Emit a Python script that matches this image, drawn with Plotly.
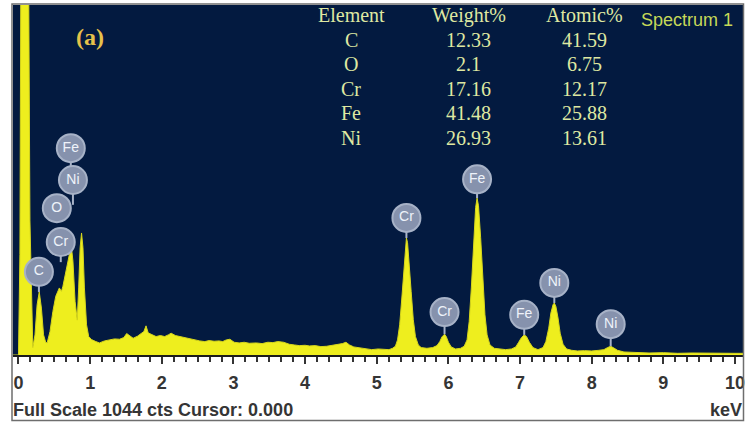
import plotly.graph_objects as go

# EDS spectrum outline: energy (keV) and counts
energy_kev = [
    -0.08, 0.00, 0.02, 0.03, 0.04, 0.10, 0.14, 0.16, 0.20, 0.23, 0.26, 0.29,
    0.32, 0.35, 0.38, 0.40, 0.44, 0.48, 0.52, 0.57, 0.60, 0.62, 0.65, 0.68,
    0.71, 0.74, 0.76, 0.79, 0.82, 0.84, 0.86, 0.88, 0.90, 0.92, 0.95, 0.98,
    1.02, 1.08, 1.13, 1.20, 1.27, 1.34, 1.41, 1.47, 1.51, 1.56, 1.60, 1.66,
    1.71, 1.75, 1.78, 1.81, 1.85, 1.92, 1.98, 2.04, 2.09, 2.13, 2.19, 2.25,
    2.32, 2.39, 2.46, 2.53, 2.60, 2.66, 2.73, 2.80, 2.85, 2.90, 2.95, 3.01,
    3.08, 3.15, 3.22, 3.32, 3.40, 3.48, 3.55, 3.62, 3.70, 3.78, 3.85, 3.92,
    4.00, 4.06, 4.14, 4.22, 4.30, 4.38, 4.45, 4.52, 4.57, 4.62, 4.68, 4.75,
    4.83, 4.93, 5.02, 5.10, 5.17, 5.22, 5.26,
    5.29, 5.32, 5.35, 5.38, 5.40, 5.414, 5.43, 5.45, 5.48, 5.51, 5.54, 5.58,
    5.62, 5.70, 5.78, 5.84, 5.88, 5.91, 5.93, 5.946, 5.97, 6.00, 6.04, 6.10,
    6.17, 6.22, 6.26, 6.29, 6.32, 6.35, 6.38, 6.40, 6.42, 6.45, 6.48, 6.51,
    6.54, 6.58, 6.64, 6.72, 6.80, 6.88, 6.94, 6.98, 7.02, 7.058, 7.09, 7.13,
    7.18, 7.25, 7.32, 7.36, 7.40, 7.43, 7.46, 7.478, 7.50, 7.53, 7.56, 7.60,
    7.65, 7.72, 7.80, 7.90, 8.00, 8.10, 8.17, 8.22, 8.265, 8.30, 8.36, 8.45,
    8.60, 8.80, 9.00, 9.20, 9.40, 9.60, 9.80, 10.00, 10.12,
]
counts = [
    0, 0, 300, 1200, 1600, 1600, 1200, 400, 22, 60, 150, 188,
    140, 60, 38, 36, 70, 130, 175, 200, 190, 205, 240, 270,
    300, 319, 280, 160, 104, 200, 320, 364, 320, 200, 90, 55,
    46, 40, 36, 42, 45, 48, 47, 52, 64, 55, 50, 56,
    65, 70, 87, 66, 62, 55, 58, 55, 60, 65, 58, 55,
    52, 50, 46, 42, 40, 43, 41, 42, 40, 45, 47, 38,
    36, 38, 35, 36, 34, 38, 37, 40, 38, 32, 30, 28,
    29, 27, 28, 25, 26, 29, 30, 34, 38, 30, 24, 22,
    20, 16, 18, 17, 16, 20, 26,
    45, 90, 170, 270, 330, 349, 335, 285, 190, 105, 55, 30,
    22, 20, 22, 28, 40, 54, 60, 62, 55, 38, 24, 18,
    20, 26, 45, 100, 200, 330, 440, 468, 445, 350, 220, 120,
    60, 30, 20, 17, 16, 18, 24, 38, 52, 60, 55, 38,
    22, 16, 22, 40, 80, 125, 150, 155, 145, 110, 65, 32,
    18, 14, 12, 13, 12, 14, 16, 22, 26, 22, 14, 9,
    7, 6, 7, 5, 6, 5, 6, 5, 5,
]

# Quantification table
elements = ["C", "O", "Cr", "Fe", "Ni"]
weight_pct = ["12.33", "2.1", "17.16", "41.48", "26.93"]
atomic_pct = ["41.59", "6.75", "12.17", "25.88", "13.61"]

# Line markers on the peaks: element, energy (keV), stem foot, bubble centre (counts)
line_label = ["C", "O", "Cr", "Ni", "Fe", "Cr", "Cr", "Fe", "Fe", "Ni", "Ni"]
line_kev = [0.285, 0.535, 0.59, 0.76, 0.73, 5.414, 5.946, 6.40, 7.058, 7.478, 8.265]
stem_foot = [188, 395, 277, 448, 540, 349, 62, 468, 60, 155, 26]
bubble_at = [248, 438, 337, 522, 617, 409, 128, 524, 120, 215, 92]

FULL_SCALE = 1044

# Pixel frame of the plotting area inside the 748x425 page
W, H = 748, 425
PL, PR, PT, PB = 13, 745, 5, 355
KEV0_PX, PX_PER_KEV = 18.5, 71.85


def px_x(px):
    return (px - PL) / (PR - PL)


def px_y(py):
    return (PB - py) / (PB - PT)


x_lo = (PL - KEV0_PX) / PX_PER_KEV
x_hi = (PR - KEV0_PX) / PX_PER_KEV

SANS = "Liberation Sans, Arial"
SERIF = "Liberation Serif, Times New Roman"

fig = go.Figure()

fig.add_trace(go.Scatter(
    x=energy_kev, y=counts, mode="lines",
    fill="tozeroy", fillcolor="#eeee1e",
    line=dict(color="#d6d61c", width=1),
    hoverinfo="skip", showlegend=False,
))

# stems joining each bubble to its peak
sx, sy = [], []
for k, f, b in zip(line_kev, stem_foot, bubble_at):
    sx += [k, k, None]
    sy += [f, b, None]
fig.add_trace(go.Scatter(
    x=sx, y=sy, mode="lines", line=dict(color="#a9b4c9", width=2),
    hoverinfo="skip", showlegend=False, cliponaxis=False,
))

fig.add_trace(go.Scatter(
    x=line_kev, y=bubble_at, mode="markers+text",
    text=line_label, textposition="middle center",
    textfont=dict(family=SANS, size=14, color="#eef2fa"),
    marker=dict(symbol="circle", size=28, color="#8692ad",
                line=dict(color="#a7b2c7", width=2)),
    hoverinfo="skip", showlegend=False, cliponaxis=False,
))

table_font = dict(family=SERIF, size=20, color="#dfe8a2")
col_px = [352, 470, 586]
row_px = [15 + 24.6 * i for i in range(6)]
headers = ["Element", "Weight%", "Atomic%"]
annotations = []
for cx, head in zip(col_px, headers):
    annotations.append(dict(text=head, x=px_x(cx), y=px_y(row_px[0])))
for i, (el, w, a) in enumerate(zip(elements, weight_pct, atomic_pct)):
    for cx, val in zip(col_px, (el, w, a)):
        annotations.append(dict(text=val, x=px_x(cx), y=px_y(row_px[i + 1])))
for an in annotations:
    an.update(xref="paper", yref="paper", showarrow=False, font=table_font,
              xanchor="center", yanchor="middle")

bottom_font = dict(family=SANS, size=18, color="#353535", weight="bold")
annotations += [
    dict(text="Spectrum 1", x=px_x(689), y=px_y(20), xref="paper", yref="paper",
         showarrow=False, xanchor="center", yanchor="middle",
         font=dict(family=SANS, size=18, color="#c6d858")),
    dict(text="<b>(a)</b>", x=px_x(90), y=px_y(37), xref="paper", yref="paper",
         showarrow=False, xanchor="center", yanchor="middle",
         font=dict(family=SERIF, size=24, color="#e6c24a")),
    dict(text=f"Full Scale {FULL_SCALE} cts Cursor: 0.000", x=px_x(11), y=px_y(410),
         xref="paper", yref="paper", showarrow=False, xanchor="left", yanchor="middle",
         font=bottom_font),
    dict(text="keV", x=px_x(746), y=px_y(410), xref="paper", yref="paper",
         showarrow=False, xanchor="right", yanchor="middle",
         font=bottom_font),
]

fig.update_layout(
    width=W, height=H,
    margin=dict(l=PL, r=W - PR, t=PT, b=H - PB, pad=0),
    paper_bgcolor="white", plot_bgcolor="#031a40",
    showlegend=False,
    annotations=annotations,
    shapes=[dict(type="rect", xref="paper", yref="paper",
                 x0=px_x(12), x1=px_x(745.5), y0=px_y(420.5), y1=px_y(4),
                 line=dict(color="#6e6e6e", width=1.5), layer="above")],
    xaxis=dict(
        range=[x_lo, x_hi], showgrid=False, zeroline=False,
        showline=True, linecolor="#1c1c1c", linewidth=2,
        tickmode="linear", tick0=0, dtick=1,
        ticks="outside", ticklen=7, tickwidth=2, tickcolor="#333333",
        ticklabelstandoff=3,
        tickfont=dict(family=SANS, size=18, color="#353535", weight="bold"),
        minor=dict(ticks="outside", ticklen=5, tickwidth=1.5, tickcolor="#333333",
                   dtick=1 / 6, tick0=0, showgrid=False),
        fixedrange=True,
    ),
    yaxis=dict(range=[0, FULL_SCALE], visible=False, showgrid=False,
               zeroline=False, fixedrange=True),
)

fig.write_html("out.html")
